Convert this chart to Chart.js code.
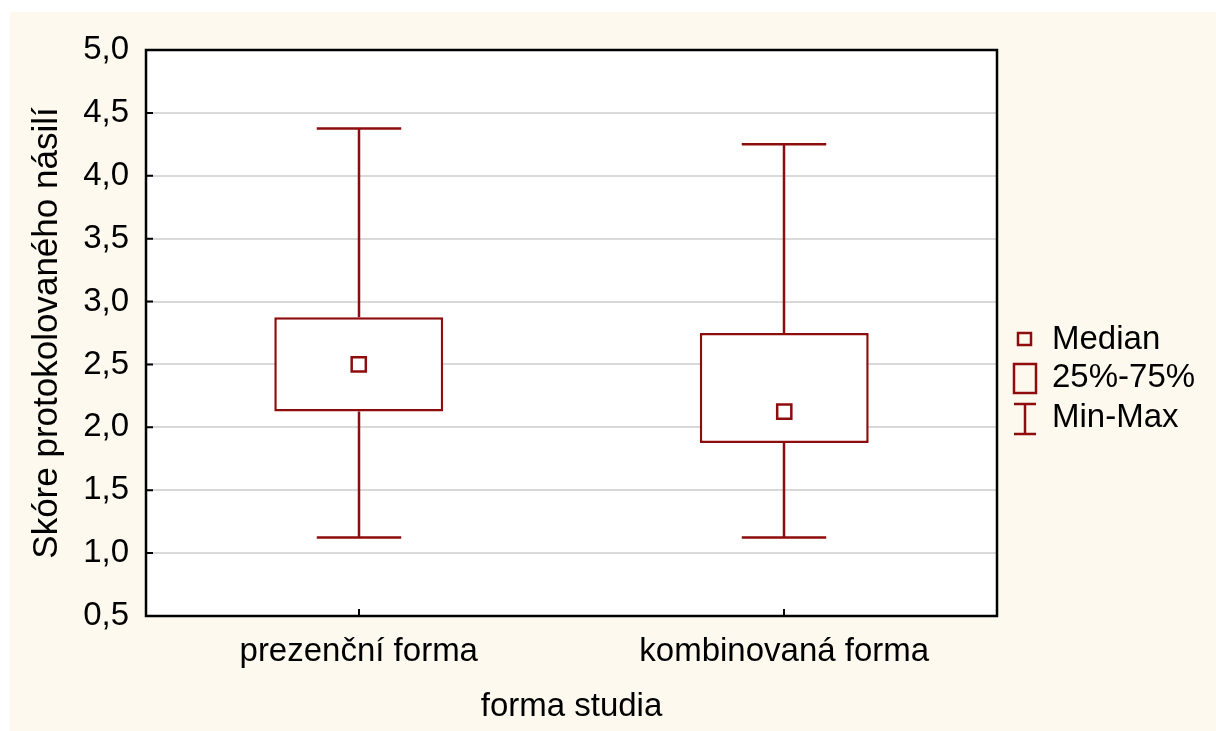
<!DOCTYPE html>
<html>
<head>
<meta charset="utf-8">
<script src="https://cdn.jsdelivr.net/npm/chart.js@4.4.1/dist/chart.umd.min.js"></script>
<style>
    html, body { margin: 0; padding: 0; background: #ffffff; }
    #wrap { width: 1216px; height: 731px; }
</style>
</head>
<body>
<div id="wrap"><canvas id="boxChart" width="1216" height="731"></canvas></div>
<script>
const categories = ['prezenční forma', 'kombinovaná forma'];
const minValues = [1.125, 1.125];
const q1Values = [2.125, 1.875];
const medianValues = [2.5, 2.125];
const q3Values = [2.875, 2.75];
const maxValues = [4.375, 4.25];
const yMin = 0.5, yMax = 5.0, yStep = 0.5;
const legendLabels = ['Median', '25%-75%', 'Min-Max'];

const RED = '#8e0c0c';
const CREAM = '#fdf9ef';
const FONT = "'Liberation Sans', Arial, sans-serif";

// background, whiskers, frame, inward ticks and legend
const boxPlugin = {
    id: 'boxPlugin',
    beforeDraw(chart) {
        const { ctx, chartArea: a } = chart;
        ctx.save();
        ctx.fillStyle = '#ffffff';
        ctx.fillRect(0, 0, chart.width, chart.height);
        ctx.fillStyle = CREAM;
        ctx.fillRect(10, 12, chart.width - 10, chart.height - 12);
        ctx.fillStyle = '#ffffff';
        ctx.fillRect(a.left, a.top, a.right - a.left, a.bottom - a.top);
        ctx.restore();
    },
    beforeDatasetsDraw(chart) {
        const { ctx, scales: { x, y } } = chart;
        const bars = chart.getDatasetMeta(0).data;
        ctx.save();
        ctx.strokeStyle = RED;
        ctx.lineWidth = 2.5;
        categories.forEach((c, i) => {
            const cx = Math.round(x.getPixelForValue(i));
            const half = bars[i].width / 4;
            const pMax = y.getPixelForValue(maxValues[i]);
            const pMin = y.getPixelForValue(minValues[i]);
            ctx.beginPath();
            ctx.moveTo(cx, pMax); ctx.lineTo(cx, y.getPixelForValue(q3Values[i]));
            ctx.moveTo(cx, pMin); ctx.lineTo(cx, y.getPixelForValue(q1Values[i]));
            ctx.moveTo(cx - half, pMax); ctx.lineTo(cx + half, pMax);
            ctx.moveTo(cx - half, pMin); ctx.lineTo(cx + half, pMin);
            ctx.stroke();
        });
        ctx.restore();
    },
    afterDraw(chart) {
        const { ctx, chartArea: a, scales: { x, y } } = chart;
        ctx.save();
        ctx.strokeStyle = '#000';
        ctx.lineWidth = 2.5;
        ctx.strokeRect(a.left, a.top, a.right - a.left, a.bottom - a.top);

        // inward ticks
        ctx.lineWidth = 2;
        ctx.beginPath();
        y.ticks.forEach(t => {
            const py = y.getPixelForValue(t.value);
            ctx.moveTo(a.left, py); ctx.lineTo(a.left + 7, py);
        });
        categories.forEach((c, i) => {
            const px = Math.round(x.getPixelForValue(i));
            ctx.moveTo(px, a.bottom); ctx.lineTo(px, a.bottom - 7);
        });
        ctx.stroke();

        // legend
        ctx.strokeStyle = RED;
        ctx.lineWidth = 2.5;
        ctx.strokeRect(1018, 333, 13, 12);
        ctx.strokeRect(1014, 364, 22, 29);
        ctx.beginPath();
        ctx.moveTo(1014, 404); ctx.lineTo(1036, 404);
        ctx.moveTo(1025, 404); ctx.lineTo(1025, 434);
        ctx.moveTo(1014, 434); ctx.lineTo(1036, 434);
        ctx.stroke();
        ctx.fillStyle = '#000';
        ctx.font = '33px ' + FONT;
        ctx.textBaseline = 'middle';
        ctx.fillText(legendLabels[0], 1052, 340);
        ctx.fillText(legendLabels[1], 1052, 378);
        ctx.fillText(legendLabels[2], 1052, 418);
        ctx.restore();
    }
};

document.addEventListener('DOMContentLoaded', () => {
    Chart.defaults.color = '#000';
    Chart.defaults.font.family = FONT;
    Chart.defaults.font.size = 33;

    const ctx = document.getElementById('boxChart').getContext('2d');
    new Chart(ctx, {
        type: 'bar',
        data: {
            labels: categories,
            datasets: [{
                type: 'bar',
                data: q1Values.map((v, i) => [v, q3Values[i]]),
                backgroundColor: '#ffffff',
                borderColor: RED,
                borderWidth: 2.5,
                borderSkipped: false,
                barPercentage: 0.397,
                categoryPercentage: 1,
                order: 1
            }, {
                type: 'line',
                data: medianValues,
                showLine: false,
                pointStyle: 'rect',
                pointRadius: 10,
                pointBorderWidth: 2.5,
                pointBackgroundColor: '#ffffff',
                pointBorderColor: RED,
                order: 0
            }]
        },
        options: {
            responsive: false,
            animation: false,
            events: [],
            layout: { padding: { top: 50, right: 219, left: 10, bottom: 0 } },
            plugins: {
                legend: { display: false },
                tooltip: { enabled: false }
            },
            scales: {
                x: {
                    grid: { display: false, drawTicks: false },
                    border: { display: false },
                    ticks: { padding: 16, maxRotation: 0 },
                    title: { display: true, text: 'forma studia', padding: { top: 0, bottom: 4 } },
                    afterFit: s => { s.height = 115; }
                },
                y: {
                    min: yMin,
                    max: yMax,
                    grid: { color: '#d9d9d9', lineWidth: 2, drawTicks: false },
                    border: { display: false },
                    ticks: {
                        stepSize: yStep,
                        padding: 17,
                        callback: v => v.toFixed(1).replace('.', ',')
                    },
                    title: {
                        display: true,
                        text: 'Skóre protokolovaného násilí',
                        font: { size: 35 },
                        padding: { top: 16, bottom: 0 }
                    },
                    afterFit: s => { s.width = 136; }
                }
            }
        },
        plugins: [boxPlugin]
    });
});
</script>
</body>
</html>
